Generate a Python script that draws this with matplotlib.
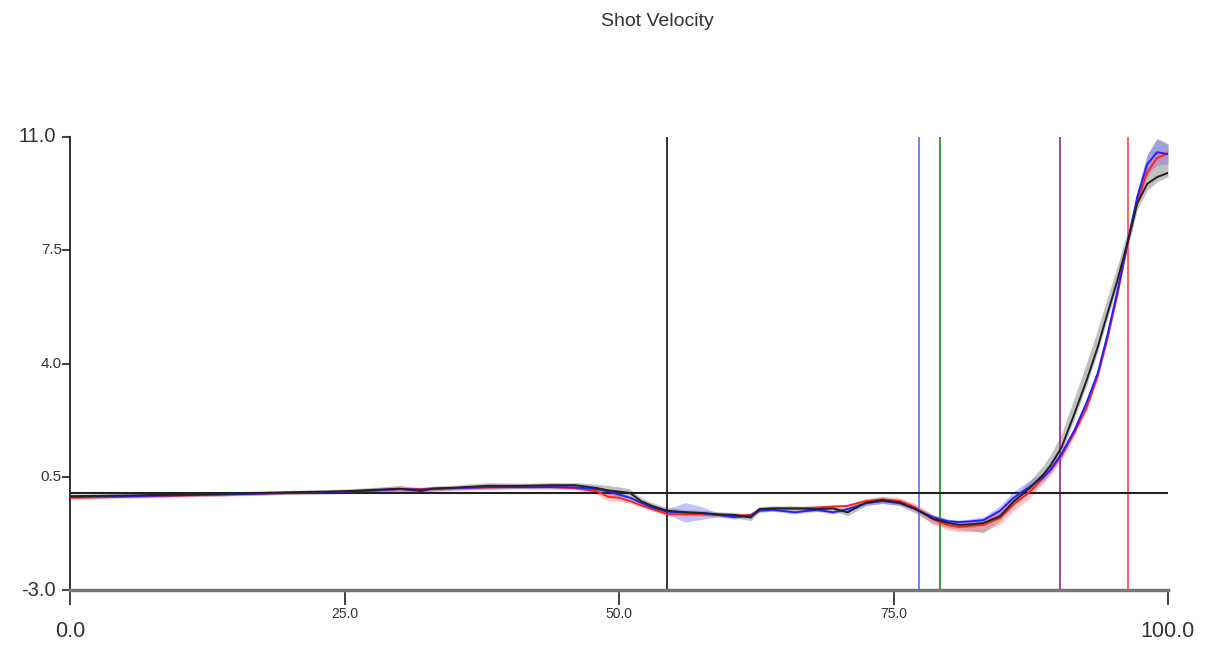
import numpy as np
from matplotlib import pyplot as plt

plt.rcParams['font.family'] = ['Liberation Sans Narrow', 'Liberation Sans',
                               'DejaVu Sans']

# percent of shot time
xs = [0, 5, 10, 15, 20, 25, 28, 30, 32, 33, 35, 38, 41, 44, 46, 48, 49, 50,
      51, 52, 53, 54.4, 56, 57.5, 59, 60.5, 62, 62.8, 64, 66, 68, 69.5, 70.8,
      72.5, 74, 75.6, 77, 78.6, 80, 81, 82, 83.2, 84.7, 85.9, 87.4, 88.6,
      89.3, 90.3, 91.5, 92.6, 93.6, 94.5, 95.4, 96.4, 97.2, 98.1, 99, 100]

blackMean = [-0.10, -0.08, -0.05, -0.02, 0.02, 0.05, 0.10, 0.13, 0.06, 0.13,
             0.16, 0.22, 0.22, 0.24, 0.24, 0.15, 0.08, 0.04, 0.00, -0.25,
             -0.40, -0.55, -0.60, -0.62, -0.66, -0.68, -0.76, -0.50, -0.48,
             -0.48, -0.50, -0.48, -0.60, -0.30, -0.22, -0.30, -0.50, -0.80,
             -0.93, -0.99, -0.97, -0.93, -0.72, -0.28, 0.15, 0.55, 0.85, 1.40,
             2.47, 3.49, 4.51, 5.56, 6.58, 7.85, 8.95, 9.55, 9.76, 9.89]
blackUp = [0.06, 0.06, 0.06, 0.06, 0.06, 0.07, 0.08, 0.10, 0.08, 0.08, 0.08,
           0.10, 0.08, 0.08, 0.08, 0.12, 0.15, 0.15, 0.12, 0.10, 0.10, 0.10,
           0.08, 0.08, 0.08, 0.08, 0.08, 0.08, 0.08, 0.08, 0.08, 0.08, 0.10,
           0.10, 0.10, 0.10, 0.12, 0.12, 0.12, 0.12, 0.12, 0.12, 0.15, 0.15,
           0.22, 0.28, 0.33, 0.42, 0.50, 0.55, 0.55, 0.50, 0.45, 0.35, 0.35,
           0.90, 1.20, 0.90]
blackDown = [0.06, 0.06, 0.06, 0.06, 0.06, 0.07, 0.08, 0.10, 0.08, 0.08, 0.08,
             0.10, 0.08, 0.08, 0.08, 0.12, 0.15, 0.15, 0.12, 0.10, 0.10, 0.10,
             0.08, 0.08, 0.08, 0.08, 0.10, 0.08, 0.08, 0.08, 0.08, 0.08, 0.10,
             0.10, 0.10, 0.10, 0.12, 0.15, 0.15, 0.15, 0.20, 0.30, 0.15, 0.10,
             0.10, 0.10, 0.12, 0.15, 0.15, 0.15, 0.15, 0.15, 0.15, 0.20, 0.20,
             0.20, 0.15, 0.12]

blueMean = [-0.12, -0.10, -0.07, -0.04, 0.00, 0.04, 0.08, 0.12, 0.10, 0.12,
            0.15, 0.18, 0.18, 0.18, 0.17, 0.12, 0.05, -0.05, -0.15, -0.30,
            -0.45, -0.58, -0.60, -0.62, -0.68, -0.75, -0.70, -0.55, -0.52,
            -0.60, -0.52, -0.60, -0.50, -0.32, -0.25, -0.32, -0.50, -0.75,
            -0.88, -0.90, -0.88, -0.84, -0.55, -0.16, 0.19, 0.48, 0.72, 1.20,
            1.95, 2.80, 3.70, 4.90, 6.25, 7.85, 9.15, 10.15, 10.53, 10.47]
blueSd = [0.04, 0.04, 0.04, 0.04, 0.04, 0.05, 0.06, 0.06, 0.05, 0.05, 0.05,
          0.05, 0.05, 0.05, 0.06, 0.08, 0.06, 0.05, 0.05, 0.05, 0.05, 0.08,
          0.30, 0.20, 0.06, 0.06, 0.05, 0.05, 0.05, 0.05, 0.05, 0.05, 0.05,
          0.06, 0.08, 0.06, 0.05, 0.06, 0.06, 0.06, 0.08, 0.10, 0.15, 0.20,
          0.20, 0.15, 0.12, 0.12, 0.12, 0.12, 0.12, 0.12, 0.12, 0.12, 0.20,
          0.30, 0.40, 0.30]

redMean = [-0.15, -0.12, -0.08, -0.04, 0.00, 0.04, 0.08, 0.12, 0.12, 0.14,
           0.15, 0.17, 0.19, 0.18, 0.15, 0.05, -0.12, -0.15, -0.25, -0.38,
           -0.50, -0.65, -0.66, -0.66, -0.68, -0.70, -0.68, -0.50, -0.48,
           -0.48, -0.45, -0.42, -0.40, -0.25, -0.20, -0.25, -0.45, -0.82,
           -1.00, -1.05, -1.02, -0.99, -0.77, -0.37, 0.03, 0.45, 0.70, 1.15,
           1.88, 2.65, 3.62, 4.80, 6.15, 7.85, 9.00, 9.90, 10.35, 10.50]
redSd = [0.05, 0.05, 0.05, 0.05, 0.05, 0.05, 0.08, 0.10, 0.06, 0.06, 0.06,
         0.06, 0.06, 0.06, 0.06, 0.10, 0.12, 0.10, 0.08, 0.06, 0.06, 0.06,
         0.05, 0.05, 0.05, 0.05, 0.05, 0.05, 0.05, 0.05, 0.05, 0.05, 0.05,
         0.08, 0.10, 0.10, 0.12, 0.15, 0.15, 0.15, 0.18, 0.20, 0.20, 0.20,
         0.20, 0.15, 0.15, 0.15, 0.12, 0.12, 0.12, 0.12, 0.12, 0.10, 0.10,
         0.12, 0.15, 0.15]

# event markers (percent of shot time)
eventPositions = [54.4, 77.3, 79.2, 90.2, 96.4]
eventColors = ['#222222', '#6f6fff', '#229922', '#a030a0', '#ff5555']

xTicks = [0, 25, 50, 75, 100]
xTickLabels = ['0.0', '25.0', '50.0', '75.0', '100.0']
yTicks = [-3.0, 0.5, 4.0, 7.5, 11.0]
yTickLabels = ['-3.0', '0.5', '4.0', '7.5', '11.0']

fig = plt.figure(figsize=(12.18, 6.45), dpi=100)
ax = fig.add_axes([70 / 1218, 55 / 645, 1098 / 1218, 453 / 645])

x = np.array(xs)
bk = np.array(blackMean)
ax.fill_between(x, bk - np.array(blackDown), bk + np.array(blackUp),
                color='#999999', alpha=0.6, linewidth=0, zorder=1)
bl = np.array(blueMean)
ax.fill_between(x, bl - np.array(blueSd), bl + np.array(blueSd),
                color='#7777ff', alpha=0.45, linewidth=0, zorder=1)
rd = np.array(redMean)
ax.fill_between(x, rd - np.array(redSd), rd + np.array(redSd),
                color='#ff7777', alpha=0.4, linewidth=0, zorder=1)

ax.plot(x, redMean, color='#ff2222', linewidth=1.4, zorder=3)
ax.plot(x, blueMean, color='#2222ff', linewidth=1.4, zorder=3)
ax.plot(x, blackMean, color='#222222', linewidth=1.4, zorder=3)

for pos, col in zip(eventPositions, eventColors):
    ax.axvline(pos, color=col, linewidth=1.3, zorder=2)

ax.axhline(0, color='#222222', linewidth=1.5, zorder=2)

ax.set_xlim(0, 100)
ax.set_ylim(-3, 11)
ax.spines['top'].set_visible(False)
ax.spines['right'].set_visible(False)
ax.spines['bottom'].set_color('#777777')
ax.spines['bottom'].set_linewidth(2.5)
ax.spines['left'].set_linewidth(1.3)
ax.spines['left'].set_color('#222222')

ax.set_xticks(xTicks)
ax.set_xticklabels([])
ax.set_yticks(yTicks)
ax.set_yticklabels([])
ax.tick_params(axis='x', direction='out', length=11, width=1.2,
               color='#222222')
ax.tick_params(axis='y', direction='out', length=6, width=1.5,
               color='#444444')

# tick labels: the end labels are drawn larger
xTrans = ax.get_xaxis_transform()
for i, (t, lab) in enumerate(zip(xTicks, xTickLabels)):
    if i == 0 or i == len(xTicks) - 1:
        ax.text(t, -0.092, lab, transform=xTrans, ha='center', va='center',
                fontsize=15.5, color='#333333')
    else:
        ax.text(t, -0.053, lab, transform=xTrans, ha='center', va='center',
                fontsize=10, color='#333333')
yTrans = ax.get_yaxis_transform()
for i, (t, lab) in enumerate(zip(yTicks, yTickLabels)):
    if i == 0 or i == len(yTicks) - 1:
        ax.text(-0.0128, t, lab, transform=yTrans, ha='right', va='center',
                fontsize=14.5, color='#333333')
    else:
        ax.text(-0.0075, t, lab, transform=yTrans, ha='right', va='center',
                fontsize=11, color='#333333')

fig.text(657 / 1218, 1 - 22 / 645, 'Shot Velocity', ha='center', va='center',
         fontsize=14, color='#333333')

fig.savefig('out.png', dpi=100)
